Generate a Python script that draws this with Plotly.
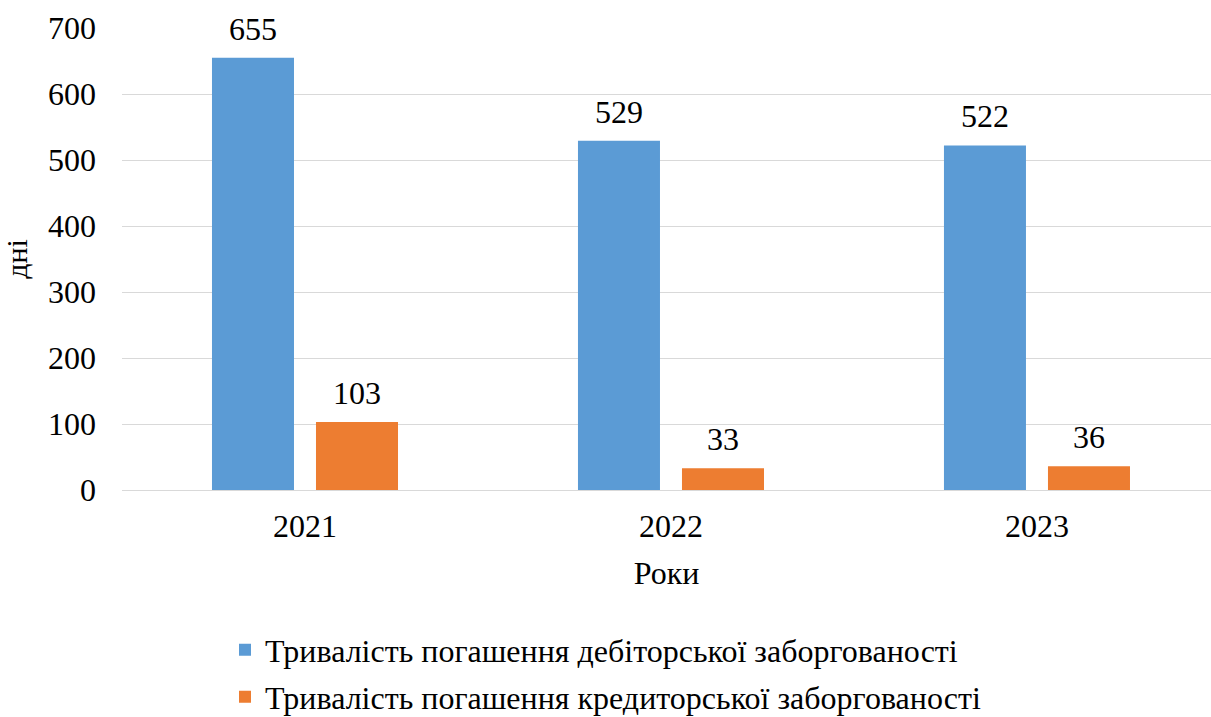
import plotly.graph_objects as go

years = ["2021", "2022", "2023"]
receivable_days = [655, 529, 522]
payable_days = [103, 33, 36]
series_names = [
    "Тривалість погашення дебіторської заборгованості",
    "Тривалість погашення кредиторської заборгованості",
]
y_ticks = [0, 100, 200, 300, 400, 500, 600, 700]

FONT = "Liberation Serif, Times New Roman, serif"
BLUE = "#5B9BD5"
ORANGE = "#ED7D31"

W, H = 1211, 717
ML, MR, MT, MB = 122, 0, 28, 227
PW, PH = W - ML - MR, H - MT - MB


def px_x(px):
    return (px - ML) / PW


def px_y(py):
    return (H - MB - py) / PH


fig = go.Figure()
fig.add_trace(go.Bar(x=years, y=receivable_days, name=series_names[0],
                     legend="legend",
                     marker=dict(color=BLUE, line=dict(width=0))))
fig.add_trace(go.Bar(x=years, y=payable_days, name=series_names[1],
                     legend="legend2",
                     marker=dict(color=ORANGE, line=dict(width=0))))

# value labels above each bar, offset to the bar's slot within the group
for vals, shift in ((receivable_days, -52), (payable_days, 52)):
    for i, v in enumerate(vals):
        fig.add_annotation(x=i, y=v, xref="x", yref="y", text=str(v),
                           showarrow=False, xshift=shift, yshift=9,
                           yanchor="bottom",
                           font=dict(family=FONT, size=32, color="#000000"))

legend_style = dict(orientation="v", xanchor="left", yanchor="middle",
                    font=dict(family=FONT, size=32, color="#000000"),
                    itemsizing="constant", bgcolor="rgba(0,0,0,0)")

fig.update_layout(
    width=W, height=H,
    margin=dict(l=ML, r=MR, t=MT, b=MB, autoexpand=False),
    paper_bgcolor="white", plot_bgcolor="white",
    barmode="group", bargap=0.4316, bargroupgap=0.2115,
    font=dict(family=FONT, size=32, color="#000000"),
    showlegend=True,
    legend=dict(x=px_x(225), y=px_y(650), **legend_style),
    legend2=dict(x=px_x(225), y=px_y(697), **legend_style),
    xaxis=dict(type="category", range=[-0.5, 2.4755], showgrid=False,
               zeroline=False, showline=False, ticks="",
               ticklabelstandoff=14, tickfont=dict(family=FONT, size=32),
               title=dict(text="Роки", font=dict(family=FONT, size=32),
                          standoff=18)),
    yaxis=dict(range=[0, 700], tickvals=y_ticks, showgrid=True,
               gridcolor="#D9D9D9", gridwidth=1.3, zeroline=True,
               zerolinecolor="#D9D9D9", zerolinewidth=1.3, showline=False,
               ticks="", ticklabelstandoff=25,
               tickfont=dict(family=FONT, size=32),
               title=dict(text="дні", font=dict(family=FONT, size=30),
                          standoff=12)),
)

fig.write_html("out.html")
